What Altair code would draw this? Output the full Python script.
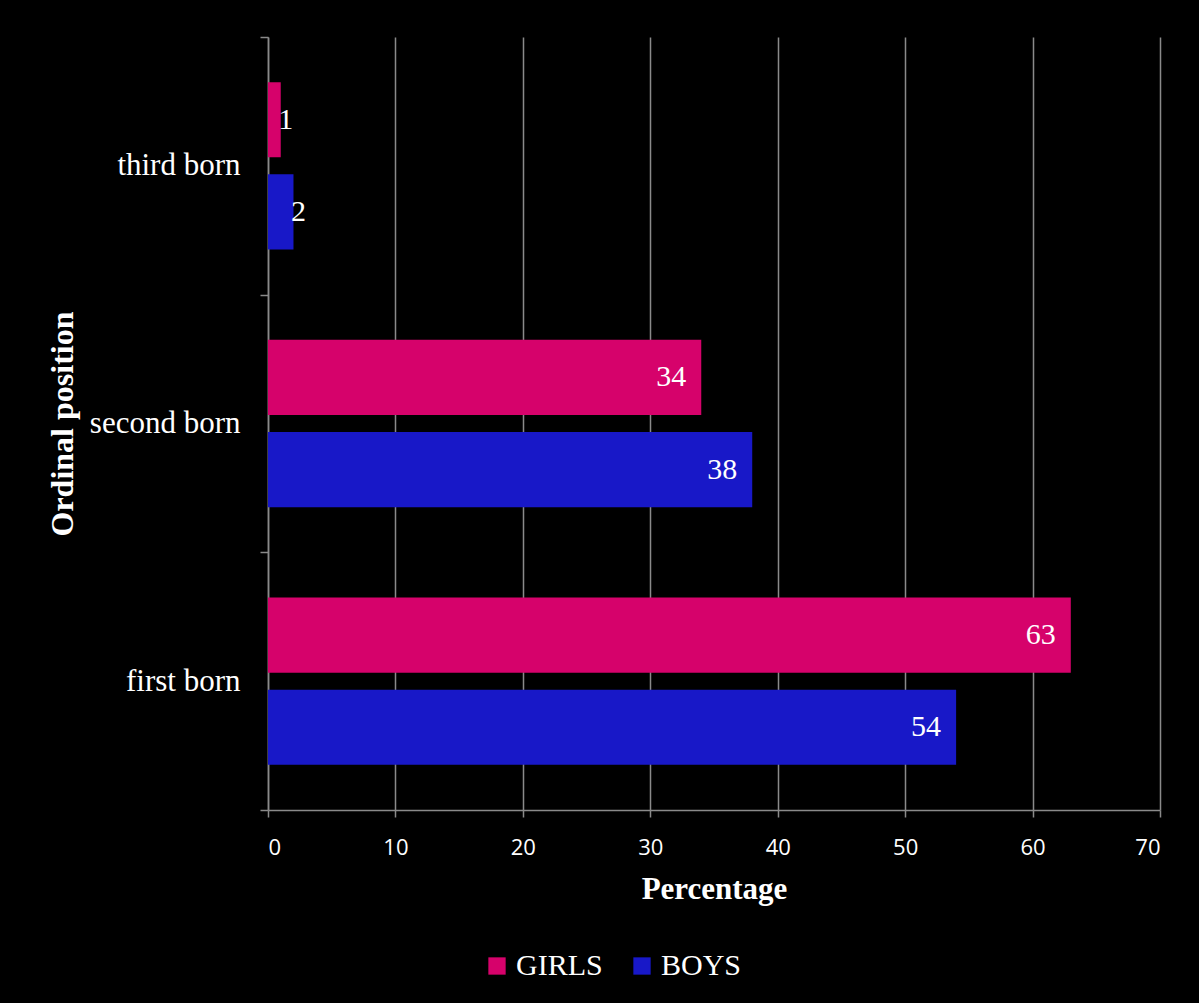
import altair as alt
import pandas as pd

categories = ["third born", "second born", "first born"]
genders = ["GIRLS", "BOYS"]
girls = [1, 34, 63]
boys = [2, 38, 54]
colors = ["#D6026B", "#1818C8"]
x_ticks = [0, 10, 20, 30, 40, 50, 60, 70]

rows = []
for c, g, b in zip(categories, girls, boys):
    rows.append({"category": c, "gender": "GIRLS", "value": g})
    rows.append({"category": c, "gender": "BOYS", "value": b})
df = pd.DataFrame(rows)

SERIF = "Liberation Serif"
GRID = "#8a8a8a"

x_enc = alt.X(
    "value:Q",
    scale=alt.Scale(domain=[0, 70], nice=False),
    axis=alt.Axis(
        values=x_ticks,
        title="Percentage",
        titleFont=SERIF, titleFontSize=31, titleFontWeight="bold", titleColor="white",
        titleY=88, titleBaseline="alphabetic",
        labelFont="Open Sans", labelFontSize=22, labelColor="white", labelPadding=20,
        domainColor=GRID, domainWidth=1.5,
        tickColor=GRID, tickSize=7, tickWidth=1.5,
        grid=True, gridColor=GRID, gridWidth=1.5,
    ),
)

y_enc = alt.Y(
    "category:N",
    sort=categories,
    scale=alt.Scale(paddingInner=0, paddingOuter=0),
    axis=alt.Axis(
        title="Ordinal position",
        titleFont=SERIF, titleFontSize=32, titleFontWeight="bold", titleColor="white",
        titleAngle=270, titleBaseline="alphabetic", titleX=-196,
        labelFont=SERIF, labelFontSize=31, labelColor="white", labelPadding=20,
        domainColor=GRID, domainWidth=1.5,
        tickColor=GRID, tickSize=8, tickWidth=1.5, tickBand="extent",
        grid=False,
    ),
)

yoff_enc = alt.YOffset(
    "gender:N", sort=genders,
    scale=alt.Scale(paddingInner=0.185, paddingOuter=0.49),
)

base = alt.Chart(df).encode(y=y_enc, yOffset=yoff_enc)

bars = base.mark_bar(stroke=None).encode(
    x=x_enc,
    color=alt.Color(
        "gender:N",
        scale=alt.Scale(domain=genders, range=colors),
        legend=alt.Legend(
            title=None, orient="none", direction="horizontal",
            legendX=214, legendY=914,
            symbolType="square", symbolSize=300, symbolStrokeWidth=0,
            labelFont=SERIF, labelFontSize=30, labelColor="white",
            labelOffset=4, columnPadding=24,
        ),
    ),
)

big_labels = base.transform_filter("datum.value >= 10").mark_text(
    align="right", baseline="middle", dx=-15, font=SERIF, fontSize=30, color="white"
).encode(x="value:Q", text="value:Q")

small_labels = base.transform_filter("datum.value < 10").mark_text(
    align="center", baseline="middle", dx=5, font=SERIF, fontSize=30, color="white"
).encode(x="value:Q", text="value:Q")

chart = (
    alt.layer(bars, big_labels, small_labels)
    .properties(
        width=892, height=773,
        autosize=alt.AutoSizeParams(type="none"),
        padding={"left": 268, "top": 37, "right": 39, "bottom": 193},
        background="black",
    )
    .configure_view(stroke=None)
    .configure_legend(labelFont=SERIF, labelFontSize=30, labelColor="white")
)

chart.save("out.html", embed_options={"renderer": "svg", "actions": False})
